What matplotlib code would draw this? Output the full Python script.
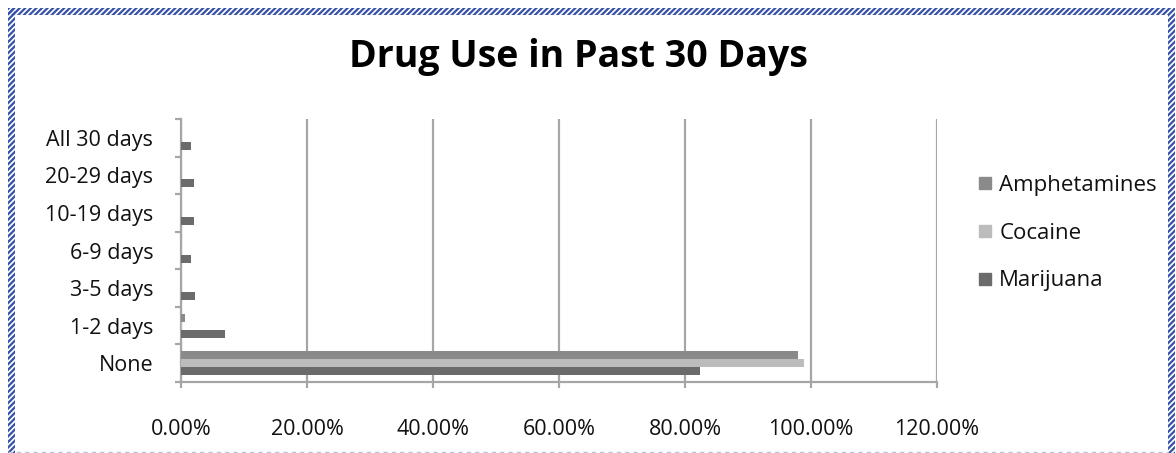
import matplotlib
matplotlib.use("Agg")
import matplotlib.pyplot as plt
from matplotlib.patches import Rectangle
from matplotlib.lines import Line2D
from matplotlib.ticker import FuncFormatter
import numpy as np

# Survey data: share of respondents by number of days of use in the past 30 days
categories = ["None", "1-2 days", "3-5 days", "6-9 days", "10-19 days", "20-29 days", "All 30 days"]
amphetamines = [97.9, 0.7, 0.0, 0.0, 0.0, 0.0, 0.0]
cocaine = [98.9, 0.2, 0.0, 0.0, 0.0, 0.0, 0.0]
marijuana = [82.4, 7.0, 2.3, 1.6, 2.0, 2.0, 1.6]
series_names = ["Amphetamines", "Cocaine", "Marijuana"]
xticks = [0, 20, 40, 60, 80, 100, 120]

colors = {"Amphetamines": "#8a8a8a", "Cocaine": "#bcbcbc", "Marijuana": "#6b6b6b"}
FONT = ["Open Sans", "DejaVu Sans"]
plt.rcParams["font.family"] = FONT
plt.rcParams["hatch.linewidth"] = 1.6

W, H = 1176, 453
fig = plt.figure(figsize=(W / 100, H / 100), dpi=100)
fig.patch.set_facecolor("white")

ax = fig.add_axes([181 / W, 71 / H, (937 - 181) / W, (382 - 119) / H])

y = np.arange(len(categories))
bh = 0.215
for vals, name, off in [(amphetamines, "Amphetamines", bh),
                        (cocaine, "Cocaine", 0.0),
                        (marijuana, "Marijuana", -bh)]:
    ax.barh(y + off, vals, height=bh, color=colors[name], zorder=3, linewidth=0)

ax.set_xlim(0, 120)
ax.set_ylim(-0.5, len(categories) - 0.5)
ax.set_xticks(xticks)
ax.xaxis.set_major_formatter(FuncFormatter(lambda v, p: f"{v:.2f}%"))
ax.set_yticks(y)
ax.set_yticklabels(categories)
ax.set_yticks(np.arange(len(categories) + 1) - 0.5, minor=True)

ax.grid(axis="x", color="#a6a6a6", linewidth=1.6, zorder=0)
for s in ["top", "right"]:
    ax.spines[s].set_visible(False)
for s in ["left", "bottom"]:
    ax.spines[s].set_color("#a6a6a6")
    ax.spines[s].set_linewidth(1.6)

LABEL_SIZE = 15.5
ax.tick_params(axis="y", which="major", length=0, pad=20, labelsize=LABEL_SIZE, labelcolor="#111111")
ax.tick_params(axis="y", which="minor", length=4.5, width=1.6, color="#a6a6a6")
ax.tick_params(axis="x", which="major", length=4.5, width=1.6, color="#a6a6a6",
               pad=22, labelsize=LABEL_SIZE, labelcolor="#111111")
for lab in ax.get_yticklabels():
    lab.set_horizontalalignment("right")

fig.text(578 / W, 1 - 67 / H, "Drug Use in Past 30 Days", ha="center", va="baseline",
         fontsize=27, fontweight="bold", color="#000000")

handles = [Line2D([], [], marker="s", linestyle="none", markersize=8,
                  markerfacecolor=colors[n], markeredgecolor=colors[n]) for n in series_names]
fig.legend(handles, series_names, loc="upper left", bbox_to_anchor=(966 / W, 1 - 164 / H),
           frameon=False, fontsize=16, handlelength=0.7, handletextpad=0.3,
           labelspacing=1.2, borderpad=0, labelcolor="#111111")

# Decorative hatched frame around the chart
hatch_col = "#3552a8"
for (x0, y0, w, h) in [(8, 8, W - 16, 7), (8, 8, 7, H - 8), (W - 8, 8, 7, H - 8)]:
    r = Rectangle((x0 / W, 1 - (y0 + h) / H), w / W, h / H, transform=fig.transFigure,
                  facecolor="none", edgecolor=hatch_col, hatch="//////", linewidth=0)
    fig.add_artist(r)
fig.add_artist(Line2D([8 / W, (W - 8) / W], [1 - 451.5 / H, 1 - 451.5 / H],
                      transform=fig.transFigure, color="#b8c0e0", linewidth=1,
                      linestyle=(0, (3, 3))))

fig.savefig("out.png", dpi=100)
